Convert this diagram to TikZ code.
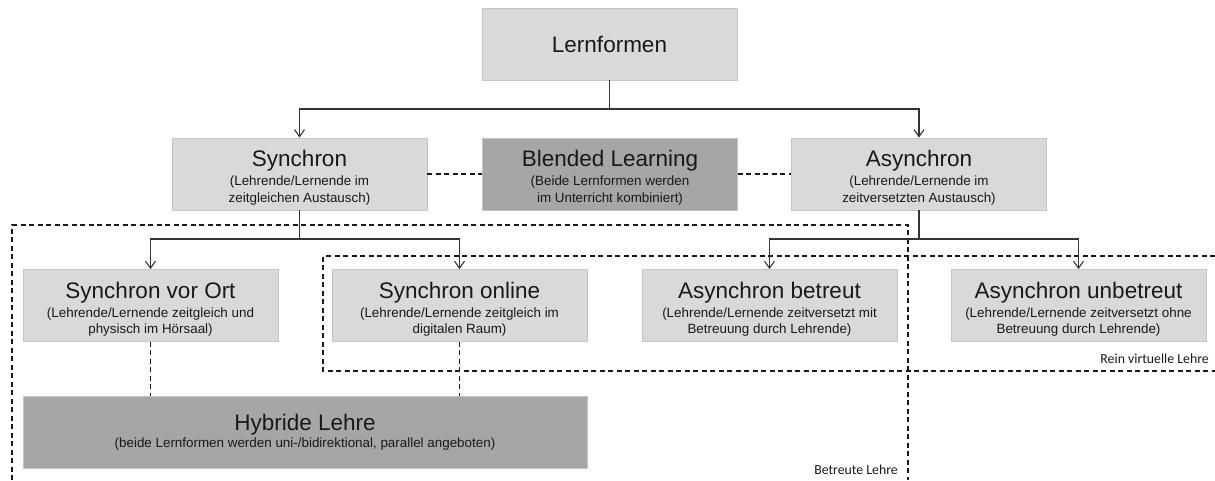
\documentclass[tikz,border=0pt]{standalone}
\usepackage{fontspec}
\setmainfont{Liberation Sans}
\newfontfamily\carl{Carlito}
\usetikzlibrary{arrows.meta}
\definecolor{lightbox}{HTML}{D9D9D9}
\definecolor{darkbox}{HTML}{A6A6A6}
\definecolor{linecol}{HTML}{333333}
\definecolor{edgecol}{HTML}{C4C4C4}
\newcommand\ttl[1]{{\fontsize{22.5}{22.5}\selectfont\rule{0pt}{24pt}#1}}
\newcommand\ttlplain[1]{{\fontsize{22.5}{22.5}\selectfont #1}}
\tikzset{
  box/.style={draw=edgecol, line width=0.9pt, fill=lightbox, minimum width=255pt,
    minimum height=72pt, inner sep=0pt, align=center,
    font=\fontsize{13.4}{16.7}\selectfont, text=black!90},
  dbox/.style={box, fill=darkbox},
  arr/.style={draw=linecol, line width=1.3pt,
    -{Straight Barb[length=7pt,width=10pt,line width=1.1pt]}},
  plainline/.style={draw=linecol, line width=1.3pt},
  dashconn/.style={draw=black!90, line width=1.2pt, dash pattern=on 5pt off 3.5pt},
  regionlabel/.style={font=\carl\fontsize{13.8}{13.8}\selectfont, text=black!90, inner sep=0pt}
}
\begin{document}
\begin{tikzpicture}[x=1pt,y=-1pt]
\useasboundingbox (0,0) rectangle (1215,480);

% regions
\coordinate (bl1) at (12,480);
\coordinate (bl2) at (12,225);
\coordinate (bl3) at (908,225);
\coordinate (bl4) at (908,480);
\draw[dashconn] (bl1) -- (bl2) -- (bl3) -- (bl4);
\coordinate (rv1) at (1215,256);
\coordinate (rv2) at (323,256);
\coordinate (rv3) at (323,371);
\coordinate (rv4) at (1215,371);
\draw[dashconn] (rv1) -- (rv2) -- (rv3) -- (rv4);

% boxes
\node[box] (lern) at (609.5,44) {\ttlplain{Lernformen}};
\node[box] (syn) at (299.5,174) {\ttl{Synchron}\\[2.3pt](Lehrende/Lernende im\\zeitgleichen Austausch)};
\node[dbox] (blend) at (610,174) {\ttl{Blended Learning}\\[2.3pt](Beide Lernformen werden\\im Unterricht kombiniert)};
\node[box] (asyn) at (919,174) {\ttl{Asynchron}\\[2.3pt](Lehrende/Lernende im\\zeitversetzten Austausch)};
\node[box] (svo) at (150.5,305.5) {\ttl{Synchron vor Ort}\\[2.3pt](Lehrende/Lernende zeitgleich und\\physisch im Hörsaal)};
\node[box] (son) at (459.5,305.5) {\ttl{Synchron online}\\[2.3pt](Lehrende/Lernende zeitgleich im\\digitalen Raum)};
\node[box] (abe) at (769.5,305.5) {\ttl{Asynchron betreut}\\[2.3pt](Lehrende/Lernende zeitversetzt mit\\Betreuung durch Lehrende)};
\node[box] (aub) at (1078.5,305.5) {\ttl{Asynchron unbetreut}\\[2.3pt](Lehrende/Lernende zeitversetzt ohne\\Betreuung durch Lehrende)};
\node[dbox, minimum width=564pt] (hyb) at (305,432) {\ttlplain{Hybride Lehre}\\[0.3pt](beide Lernformen werden uni-/bidirektional, parallel angeboten)};

% region labels
\node[regionlabel, anchor=base east] (rvl) at (1209,363) {Rein virtuelle Lehre};
\node[regionlabel, anchor=base east] (btl) at (898,474) {Betreute Lehre};

% tree connectors
\coordinate (j1) at (609.5,109);
\draw[plainline] (lern.south) -- (j1);
\draw[arr] (j1) -| (syn.north);
\draw[arr] (j1) -| (asyn.north);
\coordinate (j2) at (299.5,239);
\draw[plainline] (syn.south) -- (j2);
\draw[arr] (j2) -| (svo.north);
\draw[arr] (j2) -| (son.north);
\coordinate (j3) at (919,239);
\draw[plainline] (asyn.south) -- (j3);
\draw[arr] (j3) -| (abe.north);
\draw[arr] (j3) -| (aub.north);

% dashed links
\draw[dashconn] (syn.east) -- (blend.west);
\draw[dashconn] (blend.east) -- (asyn.west);
\draw[dashconn] (svo.south) -- (svo.south |- hyb.north);
\draw[dashconn] (son.south) -- (son.south |- hyb.north);
\end{tikzpicture}
\end{document}
